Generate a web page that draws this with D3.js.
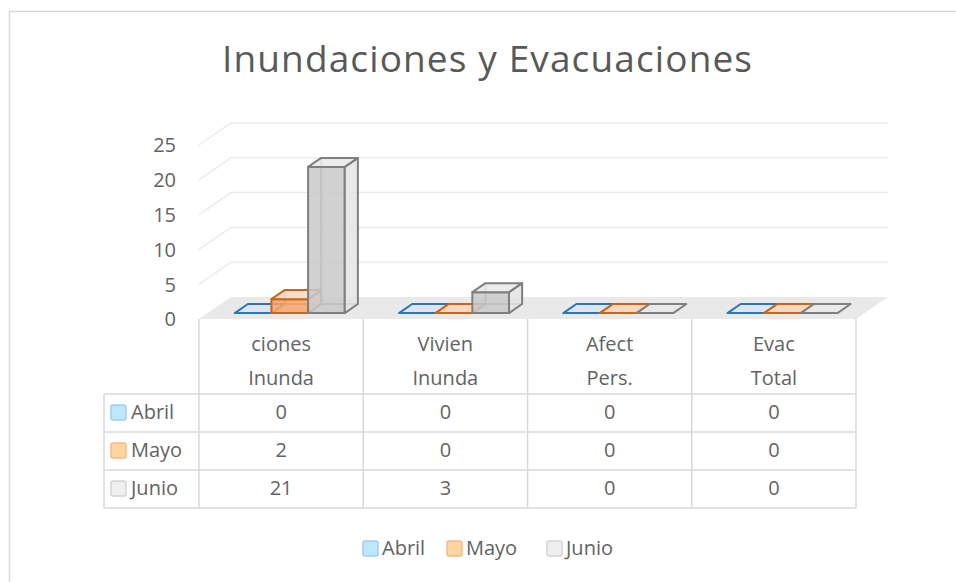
<!DOCTYPE html>
<html>
<head>
<meta charset="utf-8">
<script src="https://cdn.jsdelivr.net/npm/d3@7"></script>
<style>
  body { margin: 0; background: #fff; }
  svg text { font-family: "Open Sans", "DejaVu Sans", sans-serif; fill: #636363; }
</style>
</head>
<body>
<div id="chart"></div>
<script>
// chart values
const title = "Inundaciones y Evacuaciones";
const categoryLines = [["ciones", "Inunda"], ["Vivien", "Inunda"], ["Afect", "Pers."], ["Evac", "Total"]];
const seriesNames = ["Abril", "Mayo", "Junio"];
const abril = [0, 0, 0, 0];
const mayo = [2, 0, 0, 0];
const junio = [21, 3, 0, 0];
const yTicks = [0, 5, 10, 15, 20, 25];

const seriesValues = [abril, mayo, junio];

// looks
const edge = ["#2e75b6", "#c8661c", "#7f7f7f"];
const frontFill = ["#d6e2ee", "#f6a56c", "#c9c9c9"];
const sideFill = ["#e4e9ee", "#f9cfae", "#e4e4e4"];
const topFill = ["#dde5ee", "#f9d8c0", "#e9e9e9"];
const keyFill = ["#bfe6fb", "#fdd59e", "#efefef"];
const keyStroke = ["#9ccff4", "#f7b98b", "#d3d3d3"];

var width = 956, height = 582;
var svg = d3.select("#chart").append("svg")
  .attr("width", width)
  .attr("height", height);

// chart frame (continues past the window on the right and bottom)
svg.append("rect")
  .attr("x", 9.5).attr("y", 11.5)
  .attr("width", 980).attr("height", 600)
  .attr("fill", "#fff").attr("stroke", "#d9d9d9").attr("stroke-width", 1.5);

// title
svg.append("text")
  .attr("x", 487).attr("y", 72)
  .attr("text-anchor", "middle")
  .attr("textLength", 530).attr("lengthAdjust", "spacing")
  .style("font-size", "37px")
  .style("fill", "#595959")
  .text(title);

// 3d geometry
var floorY = 319, depthX = 32, depthY = 22;
var left = 199, right = 856;
var h = d3.scaleLinear().domain([0, 25]).range([0, 174]);
var x = d3.scaleBand().domain(d3.range(categoryLines.length)).range([left, right]);
var xs = d3.scaleBand().domain(seriesNames).range([0, x.bandwidth()]).paddingOuter(0.74);

function P(px, v, t) {
  return [px + depthX * t, floorY - depthY * t - h(v)];
}
function poly(pts) {
  return "M" + pts.map(p => p.join(",")).join("L") + "Z";
}

// floor
svg.append("path")
  .attr("d", poly([P(left, 0, 0), P(right, 0, 0), P(right, 0, 1), P(left, 0, 1)]))
  .attr("fill", "#e9e9e9");

// gridlines on side and back walls
var grid = svg.append("g").attr("fill", "none").attr("stroke", "#ebebeb").attr("stroke-width", 1.5);
yTicks.filter(v => v > 0).forEach(v => {
  grid.append("path").attr("d", "M" + [P(left, v, 0), P(left, v, 1), P(right, v, 1)].map(p => p.join(",")).join("L"));
});

// y labels
svg.append("g").selectAll("text")
  .data(yTicks).enter().append("text")
  .attr("x", 176)
  .attr("y", d => floorY - h(d) + 2)
  .attr("text-anchor", "end")
  .attr("dominant-baseline", "middle")
  .style("font-size", "20px")
  .text(d => d);

// bars
var t0 = 0.27, t1 = 0.68;
var bars = svg.append("g").attr("stroke-linejoin", "round");
categoryLines.forEach((c, i) => {
  seriesNames.forEach((s, j) => {
    var v = seriesValues[j][i];
    var x0 = x(i) + xs(s), x1 = x0 + xs.bandwidth();
    var g = bars.append("g").attr("stroke", edge[j]).attr("stroke-width", 2);
    var A = P(x0, 0, t0), B = P(x1, 0, t0), C = P(x1, v, t0), D = P(x0, v, t0);
    var A2 = P(x0, 0, t1), B2 = P(x1, 0, t1), C2 = P(x1, v, t1), D2 = P(x0, v, t1);
    if (v === 0) {
      g.append("path").attr("d", poly([A, B, B2, A2]))
        .attr("fill", topFill[j]);
      return;
    }
    // hidden edges first
    g.append("path").attr("fill", "none").attr("stroke-opacity", 0.8)
      .attr("d", "M" + A.join(",") + "L" + A2.join(",") + "L" + B2.join(",") + "M" + A2.join(",") + "L" + D2.join(","));
    g.append("path").attr("d", poly([A, B, C, D])).attr("fill", frontFill[j]).attr("fill-opacity", 0.85);
    g.append("path").attr("d", poly([B, B2, C2, C])).attr("fill", sideFill[j]).attr("fill-opacity", 0.85);
    g.append("path").attr("d", poly([D, C, C2, D2])).attr("fill", topFill[j]).attr("fill-opacity", 0.85);
  });
});

// data table
var tableLeft = 104, rowTop = 394, rowH = 38;
var lines = svg.append("g").attr("stroke", "#d9d9d9").attr("stroke-width", 1.5);
d3.range(categoryLines.length + 1).forEach(i => {
  var xx = i < categoryLines.length ? x(i) : right;
  lines.append("line").attr("x1", xx).attr("x2", xx).attr("y1", floorY).attr("y2", rowTop + rowH * 3);
});
lines.append("line").attr("x1", tableLeft).attr("x2", tableLeft).attr("y1", rowTop).attr("y2", rowTop + rowH * 3);
d3.range(4).forEach(r => {
  lines.append("line").attr("x1", tableLeft).attr("x2", right)
    .attr("y1", rowTop + rowH * r).attr("y2", rowTop + rowH * r);
});

// category header
categoryLines.forEach((c, i) => {
  c.forEach((txt, k) => {
    svg.append("text")
      .attr("x", x(i) + x.bandwidth() / 2)
      .attr("y", 346 + k * 34)
      .attr("text-anchor", "middle")
      .attr("dominant-baseline", "middle")
      .style("font-size", "20px")
      .text(txt);
  });
});

// rows
seriesNames.forEach((s, j) => {
  var cy = rowTop + rowH * j + rowH / 2;
  svg.append("rect")
    .attr("x", 111).attr("y", cy - 8).attr("width", 15).attr("height", 15).attr("rx", 2)
    .attr("fill", keyFill[j]).attr("stroke", keyStroke[j]).attr("stroke-width", 1.5);
  svg.append("text")
    .attr("x", 131).attr("y", cy + 1)
    .attr("dominant-baseline", "middle")
    .style("font-size", "20px")
    .text(s);
  seriesValues[j].forEach((v, i) => {
    svg.append("text")
      .attr("x", x(i) + x.bandwidth() / 2).attr("y", cy + 1)
      .attr("text-anchor", "middle")
      .attr("dominant-baseline", "middle")
      .style("font-size", "20px")
      .text(v);
  });
});

// legend
var legendX = [363, 447, 547];
var legend = svg.append("g").selectAll("g")
  .data(seriesNames).enter().append("g")
  .attr("transform", (d, j) => "translate(" + legendX[j] + ",549)");
legend.append("rect")
  .attr("x", 0).attr("y", -8).attr("width", 15).attr("height", 15).attr("rx", 2)
  .attr("fill", (d, j) => keyFill[j]).attr("stroke", (d, j) => keyStroke[j]).attr("stroke-width", 1.5);
legend.append("text")
  .attr("x", 19).attr("y", 1)
  .attr("dominant-baseline", "middle")
  .style("font-size", "20px")
  .text(d => d);
</script>
</body>
</html>
